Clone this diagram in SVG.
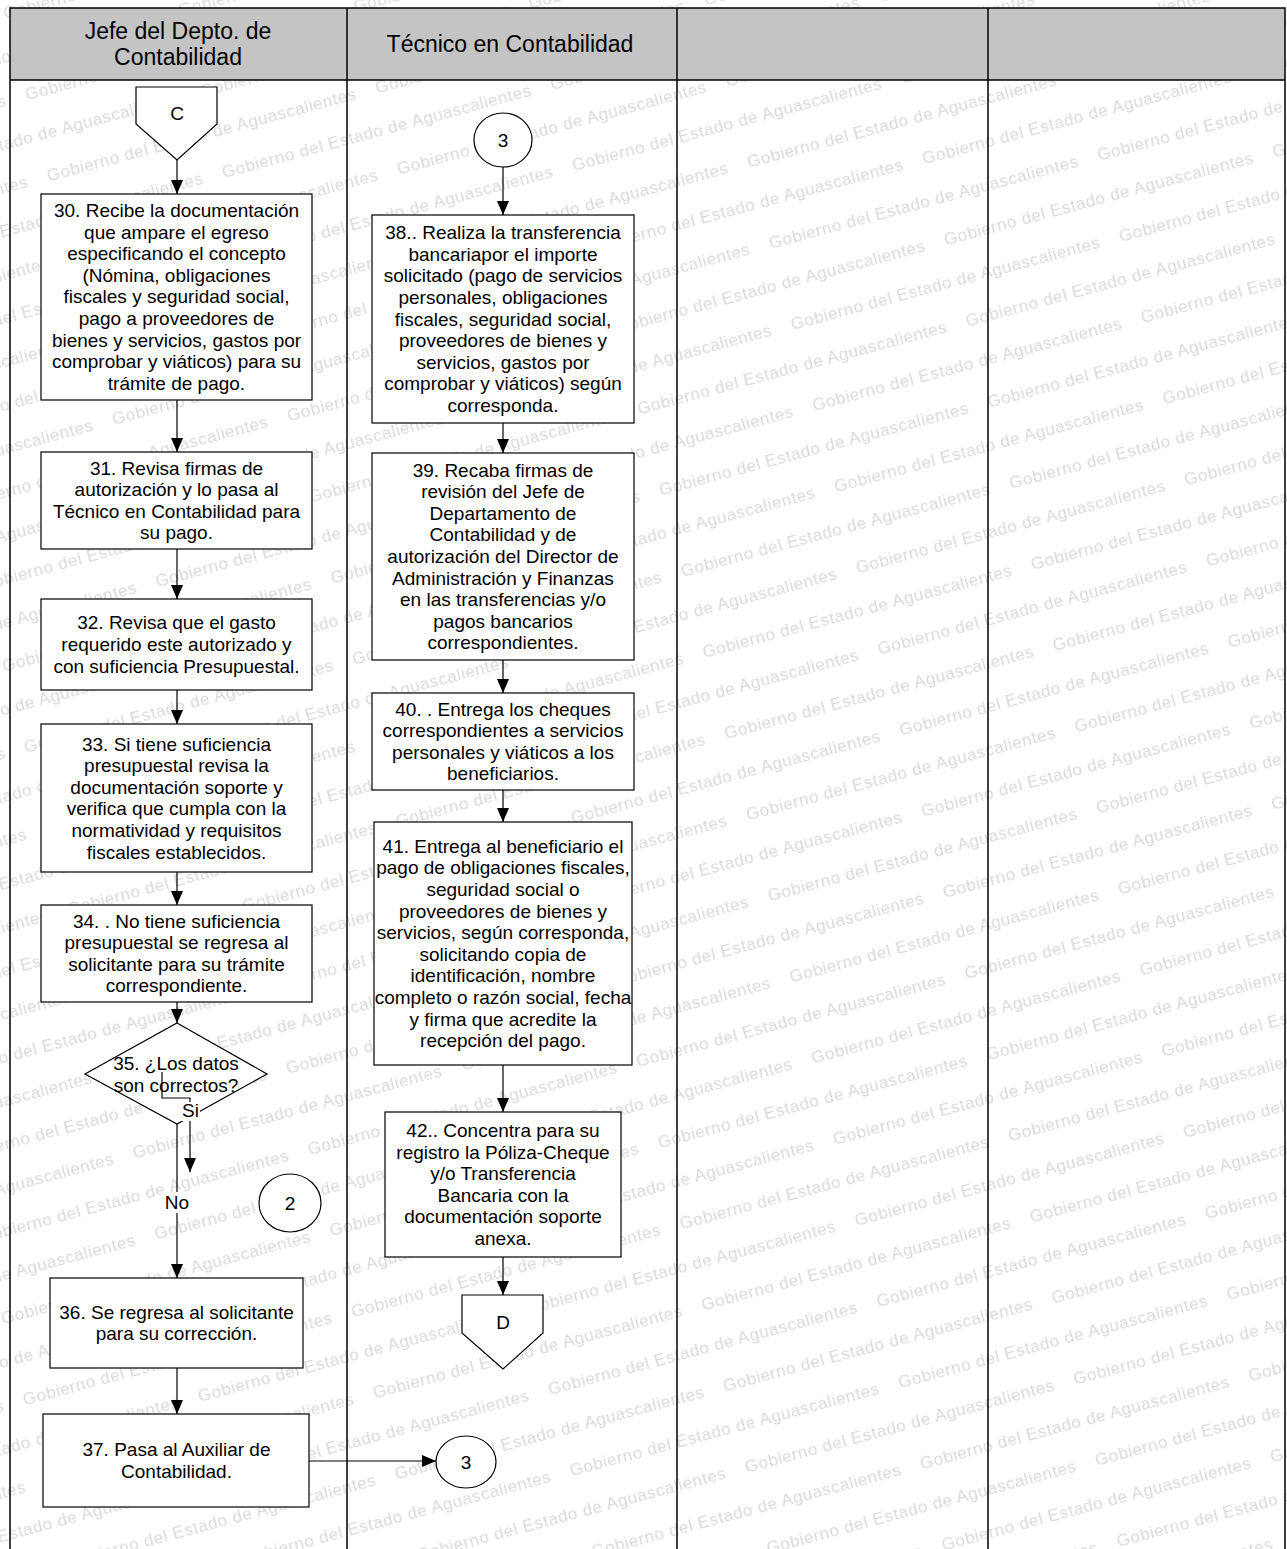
<svg xmlns="http://www.w3.org/2000/svg" width="1287" height="1549" viewBox="0 0 1287 1549" xml:space="preserve">
<style>
.wm{font-family:"Liberation Sans",Arial,sans-serif;font-size:17px;fill:#d9d9d9;letter-spacing:0.6px}
.t{font-family:"Liberation Sans",Arial,sans-serif;font-size:19px;fill:#000;text-anchor:middle}
.h{font-family:"Liberation Sans",Arial,sans-serif;font-size:23px;fill:#000;text-anchor:middle}
.box{fill:#fff;stroke:#000;stroke-width:1.2}
.grid{fill:none;stroke:#000;stroke-width:1.5}
.ln{fill:none;stroke:#000;stroke-width:1.2}
.lbl{fill:#fff;stroke:none}
</style>
<defs>
<marker id="ah" viewBox="0 0 14 12" refX="14" refY="6" markerWidth="14" markerHeight="12" markerUnits="userSpaceOnUse" orient="auto"><path d="M0,0 L14,6 L0,12 z" fill="#000"/></marker>
<pattern id="wmp" patternUnits="userSpaceOnUse" x="0" y="0" width="340" height="84" patternTransform="rotate(-15)"><text class="wm" x="0" y="20">Gobierno del Estado de Aguascalientes</text><text class="wm" x="-170" y="62">Gobierno del Estado de Aguascalientes</text><text class="wm" x="170" y="62">Gobierno del Estado de Aguascalientes</text></pattern>
</defs>
<rect x="0" y="0" width="1287" height="1549" fill="#fff"/>
<rect id="watermark" x="0" y="0" width="1287" height="1549" fill="url(#wmp)"/>
<g id="table">
<rect x="10" y="8" width="1275" height="72" fill="#c4c4c4"/>
<path class="grid" d="M10,1549 V8 H1285 V1549 M10,80 H1285 M347,8 V1549 M677,8 V1549 M988,8 V1549"/>
<text class="h" x="178" y="39"><tspan x="178">Jefe del Depto. de</tspan><tspan x="178" dy="26">Contabilidad</tspan></text>
<text class="h" x="510" y="52">Técnico en Contabilidad</text>
</g>
<g id="nodeC">
<polygon class="box" points="136,87 217,87 217,124 177,160 136,124"/>
<text class="t" x="177" y="120">C</text>
</g>
<g id="n30">
<rect class="box" x="41" y="194" width="271" height="206"/>
<text class="t" x="176.5" y="217"><tspan x="176.5">30.  Recibe la documentación</tspan><tspan x="176.5" dy="21.6">que ampare el egreso</tspan><tspan x="176.5" dy="21.6">especificando el concepto</tspan><tspan x="176.5" dy="21.6">(Nómina, obligaciones</tspan><tspan x="176.5" dy="21.6">fiscales y seguridad social,</tspan><tspan x="176.5" dy="21.6">pago a proveedores de</tspan><tspan x="176.5" dy="21.6">bienes y servicios, gastos por</tspan><tspan x="176.5" dy="21.6">comprobar y viáticos) para su</tspan><tspan x="176.5" dy="21.6">trámite de pago.</tspan></text>
</g>
<g id="n31">
<rect class="box" x="41" y="452" width="271" height="97"/>
<text class="t" x="176.5" y="474.6"><tspan x="176.5">31. Revisa firmas de</tspan><tspan x="176.5" dy="21.6">autorización y lo pasa al</tspan><tspan x="176.5" dy="21.6">Técnico en Contabilidad para</tspan><tspan x="176.5" dy="21.6">su pago.</tspan></text>
</g>
<g id="n32">
<rect class="box" x="41" y="599" width="271" height="91"/>
<text class="t" x="176.5" y="629.4"><tspan x="176.5">32.  Revisa que el gasto</tspan><tspan x="176.5" dy="21.6">requerido este autorizado y</tspan><tspan x="176.5" dy="21.6">con suficiencia Presupuestal.</tspan></text>
</g>
<g id="n33">
<rect class="box" x="41" y="724" width="271" height="148"/>
<text class="t" x="176.5" y="750.5"><tspan x="176.5">33. Si tiene suficiencia</tspan><tspan x="176.5" dy="21.6">presupuestal revisa  la</tspan><tspan x="176.5" dy="21.6">documentación soporte y</tspan><tspan x="176.5" dy="21.6">verifica que cumpla con la</tspan><tspan x="176.5" dy="21.6">normatividad y requisitos</tspan><tspan x="176.5" dy="21.6">fiscales establecidos.</tspan></text>
</g>
<g id="n34">
<rect class="box" x="41" y="905" width="271" height="97"/>
<text class="t" x="176.5" y="927.6"><tspan x="176.5">34. . No tiene suficiencia</tspan><tspan x="176.5" dy="21.6">presupuestal se regresa al</tspan><tspan x="176.5" dy="21.6">solicitante para su trámite</tspan><tspan x="176.5" dy="21.6">correspondiente.</tspan></text>
</g>
<g id="n35">
<polygon class="box" points="177,1023 267,1074 177,1124 85,1074"/>
<text class="t" x="176" y="1069.5"><tspan x="176">35. ¿Los datos</tspan><tspan x="176" dy="22.5">son correctos?</tspan></text>
</g>
<g id="n2">
<ellipse class="box" cx="290" cy="1203" rx="31" ry="29"/>
<text class="t" x="290" y="1209.5">2</text>
</g>
<g id="n36">
<rect class="box" x="50" y="1278" width="253" height="90"/>
<text class="t" x="176.5" y="1318.7"><tspan x="176.5">36.  Se regresa al solicitante</tspan><tspan x="176.5" dy="21.6">para su corrección.</tspan></text>
</g>
<g id="n37">
<rect class="box" x="43" y="1414" width="266" height="93"/>
<text class="t" x="176.5" y="1456.2"><tspan x="176.5">37.  Pasa al Auxiliar de</tspan><tspan x="176.5" dy="21.6">Contabilidad.</tspan></text>
</g>
<g id="n3b">
<ellipse class="box" cx="466" cy="1462" rx="30" ry="26"/>
<text class="t" x="466" y="1468.5">3</text>
</g>
<g id="n3a">
<ellipse class="box" cx="503" cy="140" rx="29" ry="27"/>
<text class="t" x="503" y="146.5">3</text>
</g>
<g id="n38">
<rect class="box" x="372" y="215" width="262" height="208"/>
<text class="t" x="503" y="239.1"><tspan x="503">38.. Realiza la transferencia</tspan><tspan x="503" dy="21.6">bancariapor el importe</tspan><tspan x="503" dy="21.6">solicitado (pago de servicios</tspan><tspan x="503" dy="21.6">personales, obligaciones</tspan><tspan x="503" dy="21.6">fiscales, seguridad social,</tspan><tspan x="503" dy="21.6">proveedores de bienes y</tspan><tspan x="503" dy="21.6">servicios, gastos por</tspan><tspan x="503" dy="21.6">comprobar y viáticos) según</tspan><tspan x="503" dy="21.6">corresponda.</tspan></text>
</g>
<g id="n39">
<rect class="box" x="372" y="453" width="262" height="207"/>
<text class="t" x="503" y="476.6"><tspan x="503">39. Recaba firmas de</tspan><tspan x="503" dy="21.6">revisión del Jefe de</tspan><tspan x="503" dy="21.6">Departamento de</tspan><tspan x="503" dy="21.6">Contabilidad y de</tspan><tspan x="503" dy="21.6">autorización del Director de</tspan><tspan x="503" dy="21.6">Administración y Finanzas</tspan><tspan x="503" dy="21.6">en las transferencias y/o</tspan><tspan x="503" dy="21.6">pagos bancarios</tspan><tspan x="503" dy="21.6">correspondientes.</tspan></text>
</g>
<g id="n40">
<rect class="box" x="372" y="693" width="262" height="97"/>
<text class="t" x="503" y="715.6"><tspan x="503">40. . Entrega los cheques</tspan><tspan x="503" dy="21.6">correspondientes a servicios</tspan><tspan x="503" dy="21.6">personales y viáticos a los</tspan><tspan x="503" dy="21.6">beneficiarios.</tspan></text>
</g>
<g id="n41">
<rect class="box" x="374" y="822" width="258" height="243"/>
<text class="t" x="503" y="852.8"><tspan x="503">41. Entrega al beneficiario el</tspan><tspan x="503" dy="21.6">pago de obligaciones fiscales,</tspan><tspan x="503" dy="21.6">seguridad social o</tspan><tspan x="503" dy="21.6">proveedores de bienes y</tspan><tspan x="503" dy="21.6">servicios, según corresponda,</tspan><tspan x="503" dy="21.6">solicitando copia de</tspan><tspan x="503" dy="21.6">identificación, nombre</tspan><tspan x="503" dy="21.6">completo o razón social, fecha</tspan><tspan x="503" dy="21.6">y firma que acredite la</tspan><tspan x="503" dy="21.6">recepción del pago.</tspan></text>
</g>
<g id="n42">
<rect class="box" x="385" y="1112" width="236" height="145"/>
<text class="t" x="503" y="1137"><tspan x="503">42.. Concentra para su</tspan><tspan x="503" dy="21.6">registro la Póliza-Cheque</tspan><tspan x="503" dy="21.6">y/o Transferencia</tspan><tspan x="503" dy="21.6">Bancaria con la</tspan><tspan x="503" dy="21.6">documentación soporte</tspan><tspan x="503" dy="21.6">anexa.</tspan></text>
</g>
<g id="nodeD">
<polygon class="box" points="462,1295 543,1295 543,1333 503,1369 462,1333"/>
<text class="t" x="503" y="1329">D</text>
</g>
<g id="connectors">
<line class="ln" x1="177" y1="160" x2="177" y2="194" marker-end="url(#ah)"/>
<line class="ln" x1="177" y1="400" x2="177" y2="452" marker-end="url(#ah)"/>
<line class="ln" x1="177" y1="549" x2="177" y2="599" marker-end="url(#ah)"/>
<line class="ln" x1="177" y1="690" x2="177" y2="724" marker-end="url(#ah)"/>
<line class="ln" x1="177" y1="872" x2="177" y2="905" marker-end="url(#ah)"/>
<line class="ln" x1="177" y1="1002" x2="177" y2="1023" marker-end="url(#ah)"/>
<line class="ln" x1="177" y1="1124" x2="177" y2="1278" marker-end="url(#ah)"/>
<path class="ln" d="M162,1072 V1098 H190 V1172" marker-end="url(#ah)"/>
<line class="ln" x1="177" y1="1368" x2="177" y2="1414" marker-end="url(#ah)"/>
<line class="ln" x1="309" y1="1461" x2="436" y2="1461" marker-end="url(#ah)"/>
<line class="ln" x1="503" y1="167" x2="503" y2="215" marker-end="url(#ah)"/>
<line class="ln" x1="503" y1="423" x2="503" y2="453" marker-end="url(#ah)"/>
<line class="ln" x1="503" y1="660" x2="503" y2="693" marker-end="url(#ah)"/>
<line class="ln" x1="503" y1="790" x2="503" y2="822" marker-end="url(#ah)"/>
<line class="ln" x1="503" y1="1065" x2="503" y2="1112" marker-end="url(#ah)"/>
<line class="ln" x1="503" y1="1257" x2="503" y2="1295" marker-end="url(#ah)"/>
<rect class="lbl" x="181" y="1102" width="19" height="19"/>
<text class="t" x="190.5" y="1117">Si</text>
<rect class="lbl" x="163" y="1192" width="28" height="21"/>
<text class="t" x="177" y="1209">No</text>
</g>
</svg>
